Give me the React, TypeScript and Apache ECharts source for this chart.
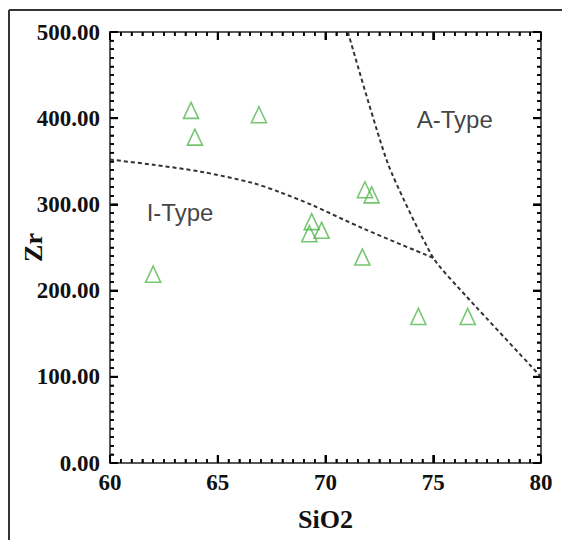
import React, { useEffect, useRef } from "react";
import * as echarts from "echarts";

const samples: number[][] = [
  [62.0, 219],
  [63.76, 409],
  [63.94, 378],
  [66.91, 404],
  [69.36, 280],
  [69.25, 266],
  [69.82, 270],
  [71.83, 317],
  [72.14, 311],
  [71.71, 239],
  [74.31, 170],
  [76.6, 170],
];

const iTypeBoundary: number[][] = [
  [60, 352],
  [62, 346],
  [64.2, 338],
  [66.6, 325],
  [67.9, 314],
  [69.4, 299],
  [71.75, 272],
  [75, 238],
];

const aTypeBoundary: number[][] = [
  [71.04, 500],
  [72.9, 347],
  [75, 238],
  [76.55, 193],
  [80, 100],
];

const regionLabels: (number | string)[][] = [
  [63.25, 291, "I-Type"],
  [76.0, 399, "A-Type"],
];

const xTicks = { min: 60, max: 80, interval: 5, minorInterval: 0.5 };
const yTicks = { min: 0, max: 500, interval: 100, minorInterval: 10 };

function tickValues(t: { min: number; max: number; minorInterval: number; interval: number }) {
  const out: { v: number; major: boolean }[] = [];
  const n = Math.round((t.max - t.min) / t.minorInterval);
  const per = Math.round(t.interval / t.minorInterval);
  for (let i = 0; i <= n; i++) {
    out.push({ v: t.min + i * t.minorInterval, major: i % per === 0 });
  }
  return out;
}

export default function App() {
  const ref = useRef<HTMLDivElement>(null);
  useEffect(() => {
    if (!ref.current) return;
    const chart = echarts.init(ref.current, undefined, { renderer: "svg" });
    const serif = "'Liberation Serif', 'Times New Roman', serif";
    const axisBase = (pos: string, showLabel: boolean, isX: boolean) => {
      const t = isX ? xTicks : yTicks;
      return {
        type: "value",
        position: pos,
        min: t.min,
        max: t.max,
        interval: t.interval,
        axisLine: { show: true, onZero: false, lineStyle: { color: "#222", width: 1.5 } },
        axisTick: { show: true, inside: true, length: 8, lineStyle: { color: "#000", width: 2 } },
        minorTick: { show: true, splitNumber: 10, length: 4, lineStyle: { color: "#000", width: 1.5 } },
        splitLine: { show: false },
        axisLabel: {
          show: showLabel,
          fontFamily: serif,
          fontWeight: "bold",
          fontSize: 23,
          color: "#111",
          margin: isX ? 8 : 10,
          formatter: isX ? (v: number) => String(v) : (v: number) => v.toFixed(2),
        },
      };
    };
    const frame = [
      { type: "line", shape: { x1: 9, y1: 10, x2: 562, y2: 10 }, style: { stroke: "#333", lineWidth: 2 } },
      { type: "line", shape: { x1: 9, y1: 10, x2: 9, y2: 540 }, style: { stroke: "#333", lineWidth: 2 } },
    ];
    chart.setOption({
      animation: false,
      backgroundColor: "#fff",
      grid: { left: 110, right: 21, top: 32, bottom: 77, containLabel: false, outerBoundsMode: "none" },
      xAxis: [
        {
          ...axisBase("bottom", true, true),
          name: "SiO2",
          nameLocation: "middle",
          nameGap: 43,
          nameMoveOverlap: false,
          nameTextStyle: { fontFamily: serif, fontWeight: "bold", fontSize: 26, color: "#111" },
        },
        { ...axisBase("top", false, true) },
      ],
      yAxis: [
        {
          ...axisBase("left", true, false),
          name: "Zr",
          nameLocation: "middle",
          nameGap: 64,
          nameMoveOverlap: false,
          nameTextStyle: { fontFamily: serif, fontWeight: "bold", fontSize: 26, color: "#111" },
        },
        { ...axisBase("right", false, false) },
      ],
      graphic: frame,
      series: [
        {
          type: "line",
          data: iTypeBoundary,
          showSymbol: false,
          smooth: 0.3,
          lineStyle: { color: "#333", width: 2, type: [4, 3] },
        },
        {
          type: "line",
          data: aTypeBoundary,
          showSymbol: false,
          smooth: 0.2,
          lineStyle: { color: "#333", width: 2, type: [4, 3] },
        },
        {
          type: "scatter",
          data: samples,
          symbol: "triangle",
          symbolSize: [15, 16],
          itemStyle: { color: "rgba(255,255,255,0)", borderColor: "#52b84c", borderWidth: 1.6 },
        },
        {
          type: "scatter",
          data: regionLabels,
          symbolSize: 0,
          label: {
            show: true,
            position: "inside",
            formatter: (p: any) => p.value[2],
            fontFamily: "'Liberation Sans', Arial, sans-serif",
            fontSize: 24,
            color: "#111",
          },
        },
      ],
    });

    // axis ticks placed through the chart's own scales
    const toPx = (x: number, y: number) => chart.convertToPixel({ gridIndex: 0 }, [x, y]) as number[];
    const ticks: any[] = [];
    const stroke = "#000";
    for (const t of tickValues(xTicks)) {
      const b = toPx(t.v, yTicks.min);
      const tp = toPx(t.v, yTicks.max);
      const len = t.major ? 8 : 4;
      const w = t.major ? 2 : 1.5;
      ticks.push({ type: "line", shape: { x1: b[0], y1: b[1], x2: b[0], y2: b[1] - len }, style: { stroke, lineWidth: w } });
      ticks.push({ type: "line", shape: { x1: tp[0], y1: tp[1], x2: tp[0], y2: tp[1] + len }, style: { stroke, lineWidth: w } });
    }
    for (const t of tickValues(yTicks)) {
      const l = toPx(xTicks.min, t.v);
      const r = toPx(xTicks.max, t.v);
      const len = t.major ? 8 : 4;
      const w = t.major ? 2 : 1.5;
      ticks.push({ type: "line", shape: { x1: l[0], y1: l[1], x2: l[0] + len, y2: l[1] }, style: { stroke, lineWidth: w } });
      ticks.push({ type: "line", shape: { x1: r[0], y1: r[1], x2: r[0] - len, y2: r[1] }, style: { stroke, lineWidth: w } });
    }
    if (ticks.length && ticks[0].shape && isFinite(ticks[0].shape.x1)) {
      chart.setOption({ graphic: [...frame, ...ticks] }, { replaceMerge: ["graphic"] });
    }
    return () => chart.dispose();
  }, []);
  return (
    <div
      ref={ref}
      style={{ position: "fixed", left: 0, top: 0, width: 562, height: 540, background: "#fff" }}
    />
  );
}
